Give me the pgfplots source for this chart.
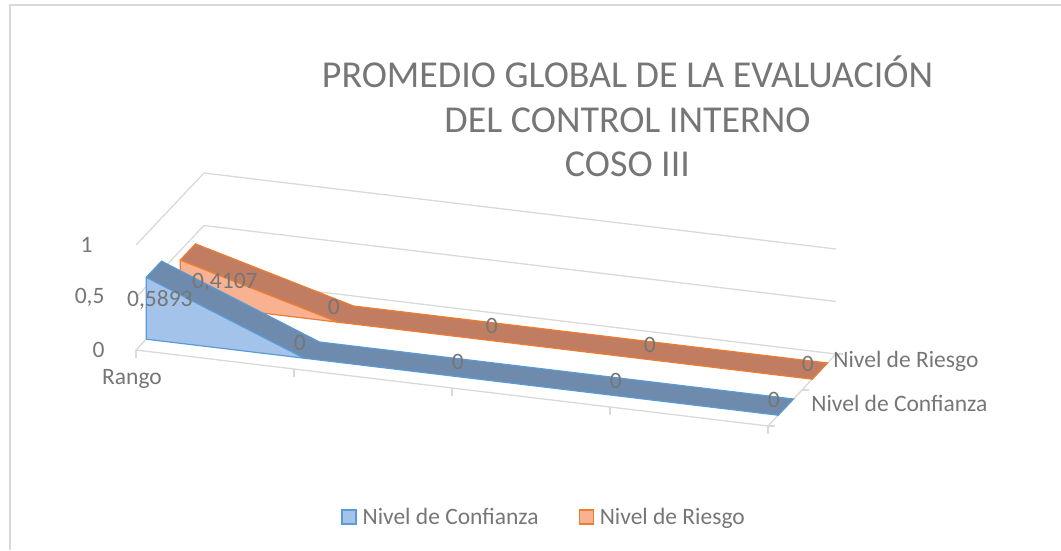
\documentclass[border=0pt]{standalone}
\usepackage{pgfplots}
\pgfplotsset{compat=1.18}
\usepackage{pgfplotstable}
\usepackage{fontspec}
\setmainfont{Carlito}
\definecolor{txt}{RGB}{118,118,118}
\definecolor{gridc}{RGB}{217,217,217}
\definecolor{bfront}{RGB}{163,195,235}
\definecolor{btop}{RGB}{110,139,173}
\definecolor{bline}{RGB}{91,155,213}
\definecolor{ofront}{RGB}{248,178,145}
\definecolor{otop}{RGB}{192,125,97}
\definecolor{oline}{RGB}{237,125,49}
\newcommand\lbl{\fontsize{23.5}{28}\selectfont}
\newcommand\ttl{\fontsize{38}{44}\selectfont}

\pgfplotstableread{
x v
0 0.5893
1 0
2 0
3 0
4 0
}\confianza
\pgfplotstableread{
x v
0 0.4107
1 0
2 0
3 0
4 0
}\riesgo

\begin{document}
\begin{tikzpicture}
\useasboundingbox (0,0) rectangle (1061pt,550pt);
\draw[gridc, line width=1.3pt] (10pt,0pt) -- (10pt,545pt) -- (1061pt,545pt);
\node[font=\ttl, text=txt, anchor=base] at (627.5pt,462pt) {PROMEDIO GLOBAL DE LA EVALUACIÓN};
\node[font=\ttl, text=txt, anchor=base] at (627.5pt,417pt) {DEL CONTROL INTERNO};
\node[font=\ttl, text=txt, anchor=base] at (627.5pt,373pt) {COSO III};
\begin{axis}[
  at={(136pt,200pt)}, anchor=origin,
  x={(158pt,-19pt)}, y={(34pt,36pt)}, z={(0pt,105pt)},
  xmin=0, xmax=4, ymin=0, ymax=2, zmin=0, zmax=1,
  hide axis, clip=false,
  legend columns=2,
  legend image code/.code={\draw[#1, line width=1.2pt] (0pt,-7pt) rectangle (14pt,7pt);},
  legend style={at={(axis description cs:0.583,-0.36)}, anchor=center, draw=none, fill=none,
    font=\lbl, text=txt,
    /tikz/every odd column/.append style={column sep=4pt},
    /tikz/every even column/.append style={column sep=38pt}},
  /pgf/number format/use comma, /pgf/number format/fixed,
  /pgf/number format/precision=4, /pgf/number format/assume math mode=true,
]
\addlegendimage{fill=bfront, draw=bline}
\addlegendentry{Nivel de Confianza}
\addlegendimage{fill=ofront, draw=oline}
\addlegendentry{Nivel de Riesgo}

% walls and floor
\draw[gridc, line width=1.3pt] (axis cs:0,0,1) -- (axis cs:0,2,1) -- (axis cs:4,2,1);
\draw[gridc, line width=1.3pt] (axis cs:0,0,0.5) -- (axis cs:0,2,0.5) -- (axis cs:4,2,0.5);
\draw[gridc, line width=1.3pt] (axis cs:4,0,0) -- (axis cs:0,0,0) -- (axis cs:0,2,0) -- (axis cs:4,2,0) -- cycle;
\draw[gridc, line width=1.3pt] (axis cs:0,0,0) -- ++(0pt,-8pt);
\draw[gridc, line width=1.3pt] (axis cs:1,0,0) -- ++(0pt,-8pt);
\draw[gridc, line width=1.3pt] (axis cs:2,0,0) -- ++(0pt,-8pt);
\draw[gridc, line width=1.3pt] (axis cs:3,0,0) -- ++(0pt,-8pt);
\draw[gridc, line width=1.3pt] (axis cs:4,0,0) -- ++(0pt,-8pt);
\draw[gridc, line width=1.3pt] (axis cs:4,0,0) -- ++(7pt,0pt);
\draw[gridc, line width=1.3pt] (axis cs:4,1,0) -- ++(7pt,0pt);
\draw[gridc, line width=1.3pt] (axis cs:4,2,0) -- ++(7pt,0pt);
\node[font=\lbl, text=txt, anchor=east] at (axis cs:0,0,0) [xshift=-28pt] {0};
\node[font=\lbl, text=txt, anchor=east] at (axis cs:0,0,0.5) [xshift=-28pt] {0,5};
\node[font=\lbl, text=txt, anchor=east] at (axis cs:0,0,1) [xshift=-40pt] {1};
\node[font=\lbl, text=txt, anchor=north] at (axis cs:0,0,0) [yshift=-16pt, xshift=-4pt] {Rango};
\node[font=\lbl, text=txt, anchor=west] at (axis cs:4,0.525,0) [xshift=22pt, yshift=4pt] {Nivel de Confianza};
\node[font=\lbl, text=txt, anchor=west] at (axis cs:4,1.525,0) [xshift=10pt, yshift=10pt] {Nivel de Riesgo};

% Nivel de Riesgo ribbon (back)
\addplot3[forget plot, fill=otop, draw=oline, line width=1.2pt] coordinates {
 (0,1.3,0.4107) (1,1.3,0) (4,1.3,0) (4,1.75,0) (1,1.75,0) (0,1.75,0.4107) (0,1.3,0.4107)};
\addplot3[forget plot, fill=ofront, draw=oline, line width=1.2pt] coordinates {
 (0,1.3,0) (0,1.3,0.4107) (1,1.3,0) (0,1.3,0)};
% Nivel de Confianza ribbon (front)
\addplot3[forget plot, fill=btop, draw=bline, line width=1.2pt] coordinates {
 (0,0.3,0.5893) (1,0.3,0) (4,0.3,0) (4,0.75,0) (1,0.75,0) (0,0.75,0.5893) (0,0.3,0.5893)};
\addplot3[forget plot, fill=bfront, draw=bline, line width=1.2pt] coordinates {
 (0,0.3,0) (0,0.3,0.5893) (1,0.3,0) (0,0.3,0)};

% data labels
\addplot3[forget plot, draw=none, mark=none, point meta=\thisrow{v}, nodes near coords,
  every node near coord/.append style={font=\lbl, text=txt, anchor=center, xshift=37pt, yshift=-30pt}]
  table[x=x, y expr=1.525, z=v, skip coords between index={1}{5}] {\riesgo};
\addplot3[forget plot, draw=none, mark=none, point meta=\thisrow{v}, nodes near coords,
  every node near coord/.append style={font=\lbl, text=txt, anchor=center, xshift=-12pt, yshift=7pt}]
  table[x=x, y expr=1.525, z=v, skip coords between index={0}{1}] {\riesgo};
\addplot3[forget plot, draw=none, mark=none, point meta=\thisrow{v}, nodes near coords,
  every node near coord/.append style={font=\lbl, text=txt, anchor=center, xshift=6pt, yshift=-31pt}]
  table[x=x, y expr=0.525, z=v, skip coords between index={1}{5}] {\confianza};
\addplot3[forget plot, draw=none, mark=none, point meta=\thisrow{v}, nodes near coords,
  every node near coord/.append style={font=\lbl, text=txt, anchor=center, xshift=-12pt, yshift=7pt}]
  table[x=x, y expr=0.525, z=v, skip coords between index={0}{1}] {\confianza};
\end{axis}
\end{tikzpicture}
\end{document}
